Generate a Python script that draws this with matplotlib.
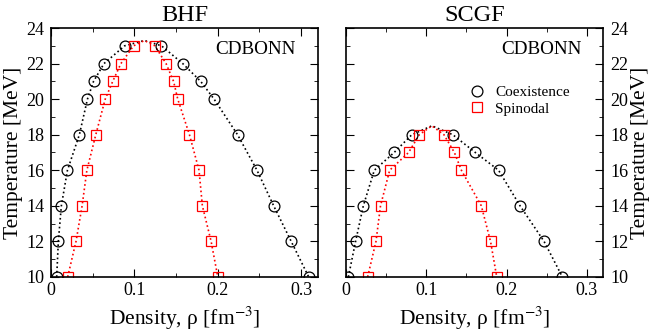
import numpy as np
import matplotlib.pyplot as plt
from matplotlib.ticker import MultipleLocator, FuncFormatter

plt.rcParams['font.family'] = ['Liberation Serif', 'DejaVu Serif']
plt.rcParams['mathtext.fontset'] = 'stix'

# Temperatures (MeV) of the data points
T_bhf = [10, 12, 14, 16, 18, 20, 21, 22, 23]
T_scgf = [10, 12, 14, 16, 17, 18]

# BHF coexistence (low / high density branch)
coex_bhf_lo = [0.0068, 0.0088, 0.0124, 0.0197, 0.034, 0.0437, 0.051, 0.0635, 0.0883]
coex_bhf_hi = [0.309, 0.288, 0.267, 0.247, 0.2237, 0.1956, 0.1795, 0.158, 0.1325]
# BHF spinodal
spin_bhf_lo = [0.020, 0.030, 0.0373, 0.043, 0.0537, 0.065, 0.074, 0.0838, 0.099]
spin_bhf_hi = [0.200, 0.192, 0.1815, 0.1775, 0.166, 0.152, 0.147, 0.138, 0.1245]
# BHF critical point (top of the dotted curves)
crit_bhf = (0.112, 23.3)

# SCGF coexistence
coex_scgf_lo = [0.003, 0.012, 0.0216, 0.0353, 0.060, 0.082]
coex_scgf_hi = [0.2694, 0.2466, 0.2167, 0.190, 0.161, 0.133]
# SCGF spinodal
spin_scgf_lo = [0.027, 0.0374, 0.043, 0.0544, 0.078, 0.0913]
spin_scgf_hi = [0.1877, 0.180, 0.1685, 0.1437, 0.135, 0.122]
crit_scgf = (0.107, 18.5)


def curve(T, lo, hi, crit):
    x = list(lo) + [crit[0]] + list(hi)[::-1]
    y = list(T) + [crit[1]] + list(T)[::-1]
    return x, y


def draw(ax, T, clo, chi, slo, shi, crit, title):
    x, y = curve(T, clo, chi, crit)
    ax.plot(x, y, ls=':', color='black', lw=1.2, zorder=1)
    x, y = curve(T, slo, shi, crit)
    ax.plot(x, y, ls=':', color='red', lw=1.2, zorder=1)
    ax.plot(list(clo) + list(chi), list(T) + list(T), 'o', mfc='none', mec='black',
            ms=7.8, mew=0.9, ls='none', zorder=2, label='Coexistence')
    ax.plot(list(slo) + list(shi), list(T) + list(T), 's', mfc='none', mec='red',
            ms=7.0, mew=0.9, ls='none', zorder=2, label='Spinodal')
    ax.set_xlim(0, 0.32)
    ax.set_ylim(10, 24)
    ax.xaxis.set_major_locator(MultipleLocator(0.1))
    ax.xaxis.set_minor_locator(MultipleLocator(0.05))
    ax.yaxis.set_major_locator(MultipleLocator(2))
    ax.yaxis.set_minor_locator(MultipleLocator(1))
    ax.xaxis.set_major_formatter(FuncFormatter(lambda v, p: '0' if abs(v) < 1e-9 else f'{v:g}'))
    ax.tick_params(which='both', direction='in', top=True, right=True, labelsize=13)
    ax.tick_params(which='major', length=6)
    ax.tick_params(which='minor', length=3)
    ax.tick_params(axis='y', pad=5)
    ax.tick_params(axis='x', pad=4)
    for s in ax.spines.values():
        s.set_linewidth(1.2)
    ax.set_title(title, fontsize=17.5, pad=5)
    ax.set_xlabel(r'Density, ρ [fm$^{-3}$]', fontsize=15.5, labelpad=4)
    ax.set_ylabel('Temperature [MeV]', fontsize=15.5, labelpad=2)
    ax.text(0.915, 0.912, 'CDBONN', transform=ax.transAxes, ha='right', va='center', fontsize=13.8)


fig = plt.figure(figsize=(6.54, 3.34), dpi=100)
ax1 = fig.add_axes([0.078, 0.171, 0.408, 0.745])
ax2 = fig.add_axes([0.529, 0.171, 0.393, 0.745])

draw(ax1, T_bhf, coex_bhf_lo, coex_bhf_hi, spin_bhf_lo, spin_bhf_hi, crit_bhf, 'BHF')
draw(ax2, T_scgf, coex_scgf_lo, coex_scgf_hi, spin_scgf_lo, spin_scgf_hi, crit_scgf, 'SCGF')

ax2.yaxis.set_label_position('right')
ax2.tick_params(which='both', labelleft=False, labelright=True)
ax2.legend(loc='upper left', bbox_to_anchor=(0.42, 0.825), frameon=False, fontsize=11,
           handletextpad=0.6, labelspacing=0.2, handlelength=1.2)

fig.savefig('out.png', dpi=100)
